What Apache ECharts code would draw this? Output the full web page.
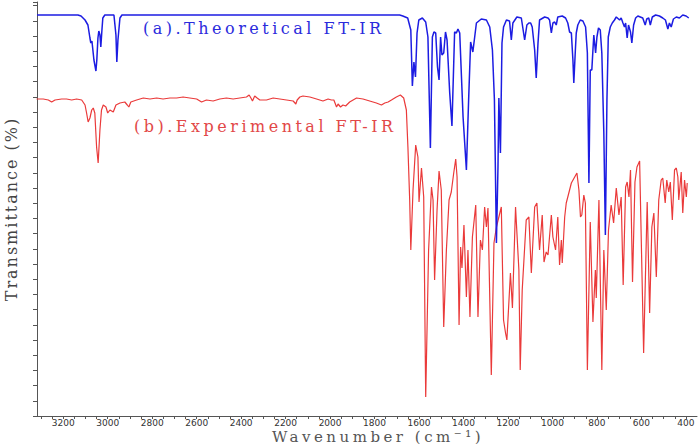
<!DOCTYPE html>
<html lang="en">
<head>
  <meta charset="utf-8" />
  <title>FT-IR spectra</title>
  <script src="https://cdn.jsdelivr.net/npm/echarts@6.0.0/dist/echarts.min.js"></script>
  <style>html, body { margin: 0; padding: 0; background: #fff; }</style>
</head>
<body>
  <div id="main" style="width: 699px;height:444px;"></div>
  <script>
    // theoretical spectrum (a)
    var theoWavenumber = [
      3318, 3134, 3120, 3102, 3089, 3080, 3076, 3071, 3062, 3053,
      3049, 3044, 3040, 3035, 3031, 3026, 3022, 3013, 2990, 2972,
      2963, 2959, 2954, 2945, 2936, 1687, 1673, 1651, 1637, 1630,
      1623, 1616, 1609, 1601, 1585, 1570, 1560, 1549, 1540, 1533,
      1525, 1517, 1510, 1503, 1497, 1489, 1481, 1474, 1462, 1452,
      1440, 1432, 1425, 1417, 1402, 1387, 1377, 1368, 1358, 1342,
      1320, 1297, 1282, 1270, 1261, 1252, 1245, 1241, 1234, 1227,
      1220, 1207, 1193, 1185, 1178, 1160, 1140, 1125, 1115, 1106,
      1098, 1091, 1080, 1073, 1065, 1058, 1035, 1020, 1013, 1005,
      998, 990, 983, 976, 956, 941, 931, 923, 915, 908,
      904, 897, 893, 886, 875, 863, 851, 843, 836, 830,
      823, 818, 814, 806, 800, 793, 785, 778, 769, 762,
      755, 749, 740, 731, 721, 713, 698, 691, 683, 676,
      671, 664, 658, 649, 643, 635, 626, 616, 605, 594,
      583, 576, 567, 560, 551, 536, 519, 504, 492, 481,
      474, 466, 456, 443, 429, 414, 399, 387
    ];
    var theoTransmittance = [
      401, 401, 400, 396, 391, 378, 373, 375, 356, 345,
      356, 378, 385, 381, 369, 386, 398, 401, 401, 401,
      381, 354, 376, 398, 401, 401, 400, 398, 386, 330,
      354, 339, 383, 396, 398, 394, 379, 268, 379, 384,
      383, 349, 336, 379, 361, 363, 384, 376, 323, 290,
      384, 383, 387, 383, 299, 246, 316, 374, 364, 393,
      397, 396, 389, 366, 316, 173, 249, 318, 263, 373,
      389, 396, 395, 376, 393, 399, 398, 376, 391, 393,
      393, 389, 366, 338, 373, 396, 399, 398, 396, 383,
      393, 394, 391, 399, 400, 398, 393, 384, 383, 356,
      333, 366, 383, 391, 396, 395, 389, 363, 233, 346,
      346, 366, 381, 363, 379, 388, 386, 363, 283, 181,
      316, 379, 389, 393, 396, 399, 396, 398, 393, 389,
      393, 378, 391, 384, 373, 391, 398, 400, 399, 398,
      391, 397, 398, 391, 399, 401, 400, 398, 396, 387,
      393, 389, 397, 399, 398, 401, 400, 398
    ];

    // experimental spectrum (b)
    var expWavenumber = [
      3320, 3290, 3267, 3252, 3237, 3207, 3185, 3162, 3140, 3117,
      3102, 3095, 3088, 3080, 3072, 3065, 3058, 3050, 3043, 3035,
      3028, 3020, 3008, 3000, 2990, 2975, 2963, 2945, 2923, 2912,
      2905, 2896, 2870, 2840, 2810, 2780, 2751, 2720, 2690, 2661,
      2631, 2600, 2578, 2556, 2526, 2496, 2466, 2436, 2406, 2376,
      2364, 2356, 2349, 2339, 2328, 2316, 2286, 2256, 2226, 2196,
      2166, 2154, 2148, 2136, 2122, 2091, 2061, 2032, 2009, 1994,
      1983, 1971, 1964, 1953, 1942, 1930, 1912, 1881, 1852, 1822,
      1792, 1769, 1754, 1739, 1724, 1702, 1684, 1669, 1657, 1650,
      1642, 1637, 1627, 1615, 1605, 1600, 1589, 1579, 1570, 1557,
      1544, 1537, 1530, 1519, 1510, 1500, 1489, 1477, 1465, 1455,
      1444, 1435, 1429, 1420, 1413, 1407, 1398, 1387, 1380, 1371,
      1360, 1345, 1335, 1324, 1315, 1305, 1297, 1290, 1275, 1263,
      1252, 1230, 1220, 1211, 1205, 1189, 1180, 1166, 1151, 1145,
      1136, 1118, 1106, 1095, 1080, 1070, 1058, 1046, 1038, 1028,
      1020, 1005, 998, 986, 976, 968, 960, 956, 945, 938,
      931, 915, 900, 890, 881, 874, 868, 859, 852, 843,
      830, 818, 807, 803, 791, 778, 769, 758, 748, 736,
      725, 713, 701, 691, 682, 671, 664, 656, 649, 640,
      629, 620, 608, 590, 574, 563, 553, 544, 533, 522,
      511, 504, 493, 486, 477, 470, 461, 451, 443, 436,
      432, 421, 414, 406, 398, 394
    ];
    var expTransmittance = [
      317, 317, 316, 314, 316, 317, 317, 316, 317, 316,
      311, 303, 294, 298, 306, 308, 303, 269, 253, 286,
      306, 311, 309, 303, 306, 304, 311, 313, 314, 311,
      309, 314, 316, 318, 317, 318, 317, 318, 318, 319,
      318, 317, 314, 316, 315, 317, 318, 317, 318, 319,
      321, 318, 315, 320, 318, 316, 316, 318, 317, 316,
      315, 312, 316, 319, 320, 319, 317, 315, 317, 316,
      316, 309, 312, 309, 311, 310, 314, 318, 317, 315,
      313, 311, 313, 314, 316, 319, 321, 318, 306, 269,
      216, 166, 226, 271, 259, 214, 248, 219, 19, 166,
      229, 216, 136, 206, 245, 226, 89, 166, 216, 224,
      243, 257, 239, 91, 169, 148, 191, 119, 166, 99,
      179, 211, 99, 176, 166, 209, 189, 208, 41, 173,
      189, 209, 96, 83, 76, 143, 108, 209, 146, 46,
      126, 196, 199, 143, 209, 213, 166, 201, 154, 164,
      161, 201, 179, 166, 199, 151, 176, 153, 199, 213,
      219, 233, 239, 243, 226, 199, 201, 221, 213, 46,
      194, 94, 146, 118, 216, 46, 166, 106, 186, 211,
      193, 228, 201, 219, 131, 229, 234, 219, 246, 134,
      234, 249, 255, 63, 214, 103, 189, 203, 139, 216,
      236, 238, 213, 236, 224, 234, 196, 246, 248, 239,
      216, 244, 203, 236, 219, 233
    ];

    var xTickLabels = [3200, 3000, 2800, 2600, 2400, 2200, 2000, 1800, 1600, 1400, 1200, 1000, 800, 600, 400];

    function zip(xs, ys) {
      var out = [];
      for (var i = 0; i < xs.length; i++) out.push([xs[i], ys[i]]);
      return out;
    }

    var chart = echarts.init(document.getElementById('main'), null, { renderer: 'svg' });
    var option = {
      animation: false,
      backgroundColor: '#fff',
      grid: { left: 37, right: 2, top: 2, bottom: 28, containLabel: false, outerBoundsMode: 'none' },
      xAxis: {
        type: 'value',
        inverse: true,
        min: 350,
        max: 3318,
        interval: 50,
        name: 'Wavenumber (cm\u207B\u00B9)',
        nameLocation: 'middle',
        nameGap: 13,
        nameMoveOverlap: false,
        nameTextStyle: { fontFamily: 'DejaVu Serif', fontSize: 15, color: '#555', padding: [0, 0, 0, 22] },
        axisLine: { lineStyle: { color: '#555', width: 1 } },
        axisTick: { length: 3, lineStyle: { color: '#555' } },
        axisLabel: {
          fontFamily: 'DejaVu Sans',
          fontSize: 9,
          color: '#333',
          margin: 2,
          showMinLabel: false,
          showMaxLabel: false,
          formatter: function (v) { return xTickLabels.indexOf(v) >= 0 ? String(v) : ''; }
        },
        splitLine: { show: false }
      },
      yAxis: {
        type: 'value',
        min: 0,
        max: 414,
        interval: 15.2,
        name: 'Transmittance (%)',
        nameLocation: 'middle',
        nameGap: 18,
        nameRotate: 90,
        nameMoveOverlap: false,
        nameTextStyle: { fontFamily: 'DejaVu Serif', fontSize: 16, color: '#444' },
        axisLine: { show: true, lineStyle: { color: '#555', width: 1 } },
        axisTick: { show: true, length: 4, lineStyle: { color: '#555' } },
        axisLabel: { show: false },
        splitLine: { show: false }
      },
      graphic: [
        {
          type: 'text', left: 143, top: 20,
          style: { text: '(a).Theoretical FT-IR', fill: '#2b2bdc', font: '16px "DejaVu Serif"' }
        },
        {
          type: 'text', left: 134, top: 118,
          style: { text: '(b).Experimental FT-IR', fill: '#e24848', font: '16px "DejaVu Serif"' }
        }
      ],
      series: [
        {
          name: 'Theoretical',
          type: 'line',
          data: zip(theoWavenumber, theoTransmittance),
          showSymbol: false,
          lineStyle: { color: '#1c1ce2', width: 1.5 },
          z: 3
        },
        {
          name: 'Experimental',
          type: 'line',
          data: zip(expWavenumber, expTransmittance),
          showSymbol: false,
          lineStyle: { color: '#ea3a3a', width: 1.2 },
          z: 2
        }
      ]
    };

    // the reference uses widely spaced lettering
    function spaceText() {
      var texts = document.querySelectorAll('#main text');
      texts.forEach(function (t) {
        var s = t.textContent;
        if (s.indexOf('FT-IR') >= 0) t.style.letterSpacing = '3.5px';
        else if (s.indexOf('Wavenumber') === 0) t.style.letterSpacing = '3.5px';
        else if (s.indexOf('Transmittance') === 0) t.style.letterSpacing = '2px';
      });
    }
    chart.on('finished', spaceText);
    chart.setOption(option);
    setTimeout(spaceText, 30);
  </script>
</body>
</html>
